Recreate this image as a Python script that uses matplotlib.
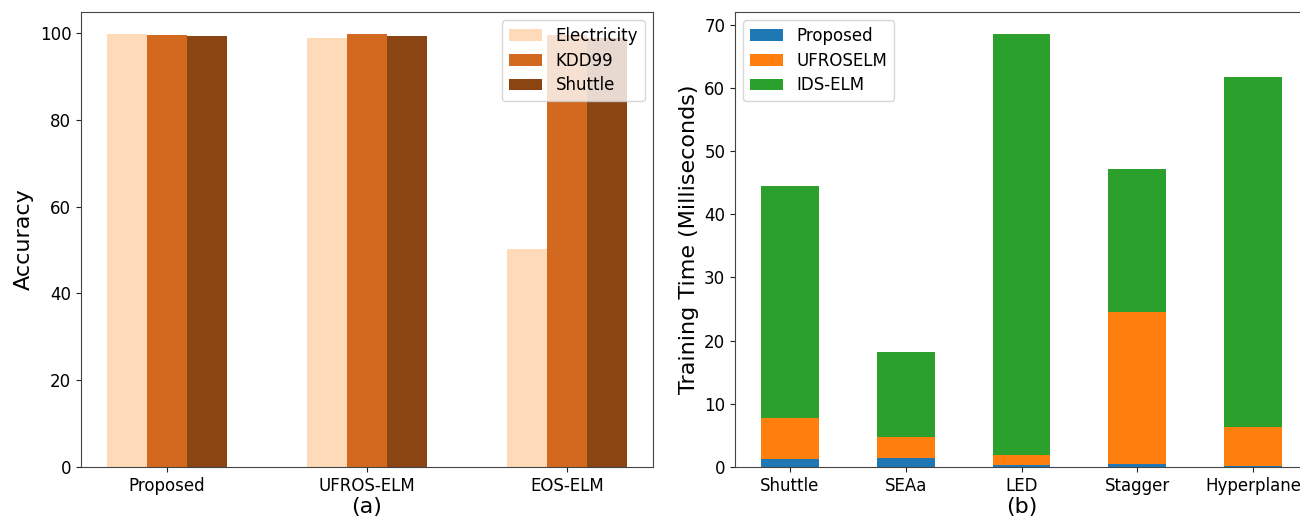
import numpy as np
import matplotlib
matplotlib.use("Agg")
import matplotlib.pyplot as plt

# Accuracy per method and dataset
methods = ["Proposed", "UFROS-ELM", "EOS-ELM"]
datasets = ["Electricity", "KDD99", "Shuttle"]
acc_electricity = [99.8, 98.8, 50.3]
acc_kdd99 = [99.7, 99.9, 99.5]
acc_shuttle = [99.4, 99.4, 99.0]
acc_colors = ["#ffdab9", "#d2691e", "#8b4513"]

# Training time (ms), stacked per stream
streams = ["Shuttle", "SEAa", "LED", "Stagger", "Hyperplane"]
time_proposed = [1.2, 1.5, 0.3, 0.5, 0.2]
time_ufroselm = [6.5, 3.3, 1.6, 24.0, 6.1]
time_idselm = [36.8, 13.4, 66.7, 22.7, 55.5]
time_labels = ["Proposed", "UFROSELM", "IDS-ELM"]

W, H = 1300, 522
fig = plt.figure(figsize=(W / 100, H / 100), dpi=100)

ax1 = fig.add_axes([81 / W, 1 - 467 / H, 572 / W, 455 / H])
ax2 = fig.add_axes([735 / W, 1 - 467 / H, 573 / W, 455 / H])

for ax in (ax1, ax2):
    for s in ax.spines.values():
        s.set_color("#444444")
    ax.tick_params(colors="#222222", labelcolor="black")

# (a) grouped accuracy bars
x = np.arange(len(methods))
bw = 0.2
for i, (vals, name) in enumerate(zip([acc_electricity, acc_kdd99, acc_shuttle], datasets)):
    ax1.bar(x + (i - 1) * bw, vals, bw, color=acc_colors[i], label=name)
ax1.set_xticks(x)
ax1.set_xticklabels(methods, fontsize=12)
ax1.tick_params(axis="y", labelsize=12)
ax1.set_ylabel("Accuracy", fontsize=16)
ax1.set_xlabel("(a)", fontsize=16, labelpad=2)
ax1.legend(loc="upper right", fontsize=12, handlelength=2.0, labelspacing=0.4)

# (b) stacked training-time bars
xs = np.arange(len(streams))
bottom = np.zeros(len(streams))
for vals, name, col in zip([time_proposed, time_ufroselm, time_idselm], time_labels,
                           ["#1f77b4", "#ff7f0e", "#2ca02c"]):
    ax2.bar(xs, vals, 0.5, bottom=bottom, color=col, label=name)
    bottom += np.array(vals)
ax2.set_xticks(xs)
ax2.set_xticklabels(streams, fontsize=12)
ax2.tick_params(axis="y", labelsize=12)
ax2.set_ylabel("Training Time (Milliseconds)", fontsize=16)
ax2.set_xlabel("(b)", fontsize=16, labelpad=2)
ax2.legend(loc="upper left", fontsize=12, handlelength=2.0, labelspacing=0.4)

fig.savefig("out.png", dpi=100)
